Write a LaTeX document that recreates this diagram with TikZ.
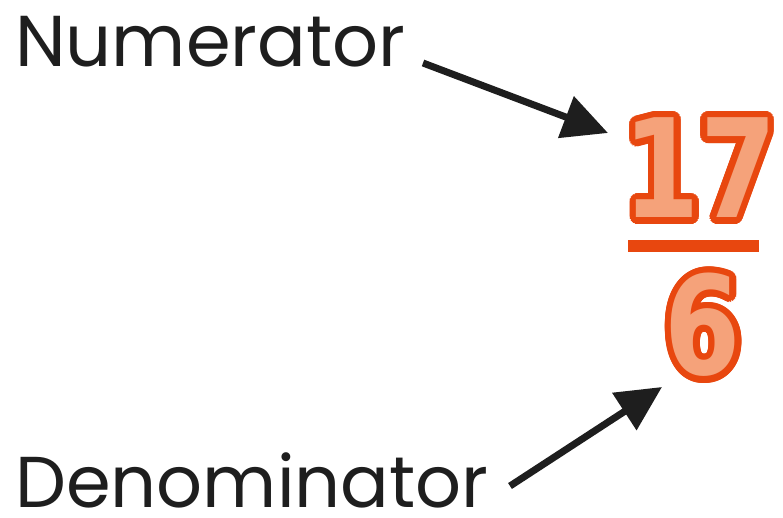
\documentclass[tikz,border=0pt]{standalone}
\usepackage{fontspec}
\setmainfont{Poppins}
\newfontfamily\digfont{DejaVu Sans}
\usetikzlibrary{arrows.meta}
\definecolor{outl}{HTML}{E8470F}
\definecolor{fillc}{HTML}{F5A27A}
\definecolor{ink}{HTML}{1E1E1E}
\tikzset{
  lbl/.style={font=\fontsize{72}{76}\selectfont, text=ink, inner sep=0pt, text depth=0pt, anchor=base west},
  digit/.style={font=\digfont\bfseries\fontsize{137}{140}\selectfont, inner sep=0pt, anchor=center},
  arr/.style={draw=ink, line width=7pt, -{Triangle[length=45pt,width=43pt]}},
}
\begin{document}
\begin{tikzpicture}[x=1pt,y=-1pt]
\useasboundingbox (0,0) rectangle (783,517);
\fill[white] (0,0) rectangle (783,517);
\node[lbl] (num) at (15,66) {Numerator};
\node[lbl] (den) at (15,507) {Denominator};
% numerator digits with outline
\foreach \a in {0,15,...,345}
  \node[digit, text=outl] at ([shift={(\a:6.5)}] 700,168) {\scalebox{0.8}[1]{17}};
\node[digit, text=fillc] (n17) at (700,168) {\scalebox{0.8}[1]{17}};
% fraction bar
\draw[outl, line width=12pt] (628,246) -- (759,246);
% denominator
\foreach \a in {0,15,...,345}
  \node[digit, text=outl] at ([shift={(\a:6.5)}] 703,325) {\scalebox{0.8}[1]{6}};
\node[digit, text=fillc] (d6) at (703,325) {\scalebox{0.8}[1]{6}};
% arrows
\coordinate (a1s) at (423,63);
\coordinate (a1e) at (608,133);
\coordinate (a2s) at (510,486);
\coordinate (a2e) at (662,387);
\draw[arr] (a1s) -- (a1e);
\draw[arr] (a2s) -- (a2e);
\end{tikzpicture}
\end{document}
